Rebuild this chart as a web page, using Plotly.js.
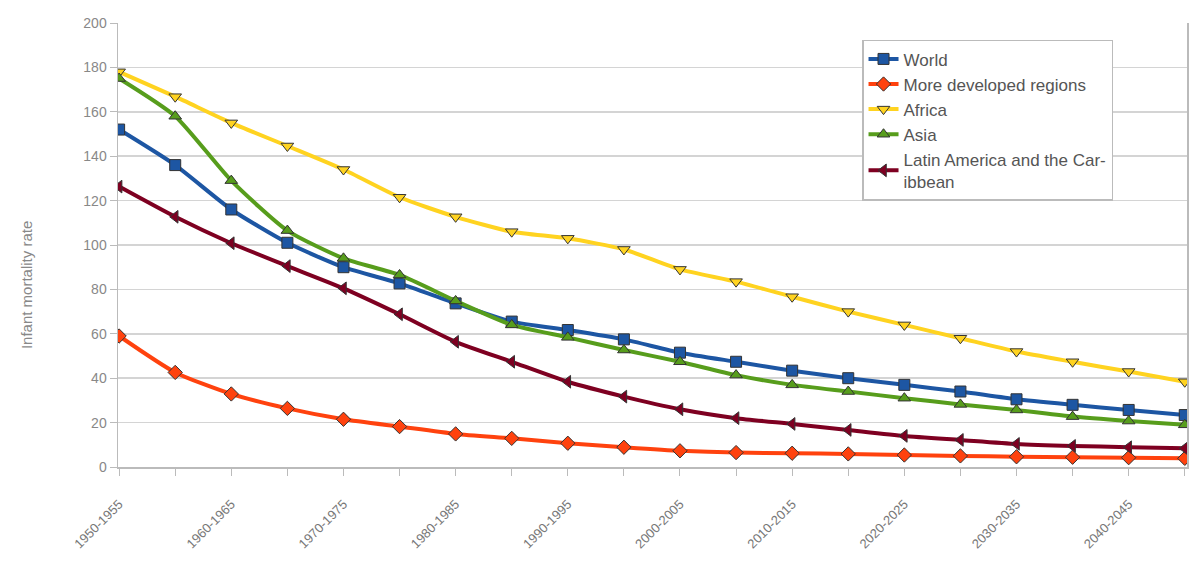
<!DOCTYPE html>
<html>
<head>
<meta charset="utf-8">
<script src="https://cdn.plot.ly/plotly-3.0.1.min.js"></script>
<style>html,body{margin:0;padding:0;background:#fff;}#chart{width:1200px;height:562px;}</style>
</head>
<body>
<div id="chart"></div>
<script>
const periods = ["1950-1955","1955-1960","1960-1965","1965-1970","1970-1975","1975-1980","1980-1985","1985-1990","1990-1995","1995-2000","2000-2005","2005-2010","2010-2015","2015-2020","2020-2025","2025-2030","2030-2035","2035-2040","2040-2045","2045-2050"];
const world = [152,136,116,101,90,82.7,73.7,65.5,61.7,57.5,51.5,47.4,43.4,40,37,34,30.5,28,25.7,23.4];
const moreDeveloped = [59,42.6,32.9,26.4,21.5,18.2,14.9,12.9,10.7,8.9,7.3,6.5,6.2,5.9,5.4,5,4.6,4.4,4.2,3.9];
const africa = [178,166.8,155,144.6,134,121.5,112.7,106,103,98,89,83.5,76.7,70,64,58,52,47.4,43,38.4];
const asia = [175,158,129,106.5,94,86.5,74.8,64,58.4,52.7,47.4,41.4,37,34,31,28.2,25.7,22.7,20.7,19];
const latinAmerica = [126.3,112.7,100.8,90.5,80.5,68.8,56.4,47.4,38.4,31.7,26,22,19.4,16.7,14,12.2,10.4,9.5,8.9,8.4];
const seriesNames = ["World","More developed regions","Africa","Asia","Latin America and the Car-<br>ibbean"];
const yTitle = "Infant mortality rate";

const xIdx = periods.map((p,i)=>i);
const tickText = periods.map((p,i)=> i%2===0 ? p : "");

function tr(name, y, color, symbol){
  return {
    type:'scatter', mode:'lines+markers', name:name, x:xIdx, y:y,
    line:{color:color, width:4, shape:'spline', smoothing:0.6},
    marker:{symbol:symbol, size:11, color:color, line:{color:'#333', width:1}}
  };
}
const data = [
  tr(seriesNames[0], world, '#1d56a3', 'square'),
  tr(seriesNames[1], moreDeveloped, '#ff420e', 'diamond'),
  tr(seriesNames[2], africa, '#ffd320', 'triangle-down'),
  tr(seriesNames[3], asia, '#579d1c', 'triangle-up'),
  tr(seriesNames[4], latinAmerica, '#7e0021', 'triangle-left')
];
const layout = {
  width:1200, height:562,
  margin:{l:118, r:13, t:23, b:95},
  paper_bgcolor:'#fff', plot_bgcolor:'#fff',
  font:{family:'"Liberation Sans", Arial, sans-serif', color:'#666', size:13},
  showlegend:true,
  legend:{x:0.696, y:0.962, xanchor:'left', yanchor:'top', bgcolor:'#fff', bordercolor:'#bbb', borderwidth:1.5,
    font:{size:17, color:'#555'}, tracegroupgap:0, itemwidth:30},
  xaxis:{
    range:[-0.02,19.04], tickmode:'array', tickvals:xIdx, ticktext:tickText,
    tickangle:-45, ticks:'outside', ticklen:7, tickcolor:'#bbb', ticklabelstandoff:16,
    showgrid:false, showline:true, linecolor:'#bbb', linewidth:1.5, zeroline:false,
    tickfont:{size:13, color:'#777'}
  },
  yaxis:{
    range:[0,200], dtick:20, tick0:0, ticks:'outside', ticklen:7, tickcolor:'#bbb',
    showgrid:true, gridcolor:'#d4d4d4', gridwidth:1.5, showline:true, linecolor:'#bbb', linewidth:1.5, mirror:true,
    zeroline:false, tickfont:{size:14, color:'#888'}
  },
  annotations:[{
    text:yTitle, textangle:-90, xref:'paper', yref:'paper', x:-0.085, y:0.41,
    xanchor:'center', yanchor:'middle', showarrow:false, font:{size:15, color:'#888'}
  }]
};
Plotly.newPlot('chart', data, layout, {staticPlot:true, displayModeBar:false});
</script>
</body>
</html>
